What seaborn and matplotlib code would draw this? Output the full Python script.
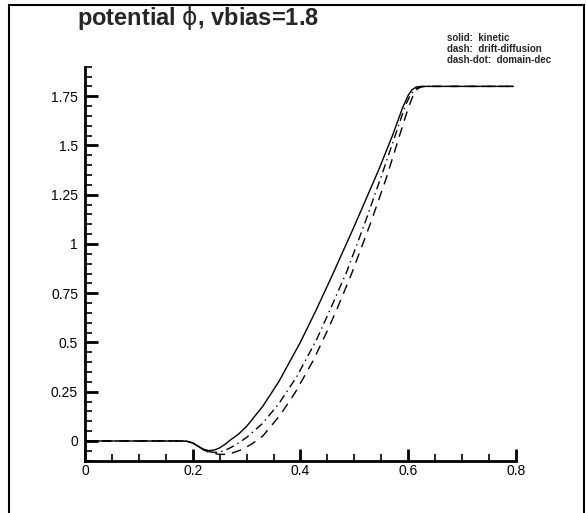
import numpy as np
import pandas as pd
import matplotlib
matplotlib.use("Agg")
import matplotlib.pyplot as plt
from matplotlib.patches import Rectangle
from matplotlib.ticker import MultipleLocator
import seaborn as sns

# kinetic (solid)
x_kin = [0.0, 0.1, 0.18, 0.19, 0.2, 0.21, 0.22, 0.23, 0.24, 0.25, 0.26, 0.27, 0.285, 0.30,
         0.33, 0.36, 0.40, 0.43, 0.46, 0.50, 0.545, 0.57, 0.59, 0.60, 0.607, 0.615, 0.625,
         0.70, 0.795]
y_kin = [0.0, 0.0, 0.0, -0.002, -0.01, -0.026, -0.042, -0.049, -0.046, -0.035, -0.017, 0.005,
         0.035, 0.074, 0.176, 0.302, 0.502, 0.670, 0.847, 1.091, 1.375, 1.545, 1.695, 1.755,
         1.783, 1.797, 1.80, 1.80, 1.80]

# drift-diffusion (dash)
x_dd = [0.0, 0.1, 0.18, 0.19, 0.2, 0.21, 0.22, 0.23, 0.24, 0.25, 0.26, 0.27, 0.29, 0.31,
        0.33, 0.362, 0.39, 0.424, 0.45, 0.467, 0.495, 0.53, 0.56, 0.585, 0.60, 0.61, 0.618,
        0.627, 0.64, 0.70, 0.795]
y_dd = [0.0, 0.0, 0.0, -0.002, -0.01, -0.027, -0.045, -0.057, -0.064, -0.068, -0.068, -0.064,
        -0.045, -0.015, 0.025, 0.13, 0.245, 0.41, 0.56, 0.665, 0.85, 1.105, 1.34, 1.56, 1.69,
        1.76, 1.79, 1.799, 1.80, 1.80, 1.80]

# domain-dec (dash-dot)
x_dom = [0.0, 0.1, 0.18, 0.19, 0.2, 0.21, 0.22, 0.23, 0.24, 0.25, 0.26, 0.28, 0.30, 0.33,
         0.36, 0.393, 0.43, 0.458, 0.486, 0.52, 0.554, 0.58, 0.595, 0.605, 0.615, 0.625, 0.635,
         0.70, 0.795]
y_dom = [0.0, 0.0, 0.0, -0.002, -0.01, -0.027, -0.044, -0.054, -0.058, -0.056, -0.048, -0.02,
         0.018, 0.09, 0.19, 0.326, 0.515, 0.685, 0.86, 1.11, 1.375, 1.585, 1.705, 1.762, 1.79,
         1.799, 1.80, 1.80, 1.80]

x_ticks = [0, 0.2, 0.4, 0.6, 0.8]
x_labels = ["0", "0.2", "0.4", "0.6", "0.8"]
y_ticks = [0, 0.25, 0.5, 0.75, 1, 1.25, 1.5, 1.75]
y_labels = ["0", "0.25", "0.5", "0.75", "1", "1.25", "1.5", "1.75"]

sns.set_style("ticks")
plt.rcParams['font.family'] = ['Liberation Sans', 'DejaVu Sans']

fig = plt.figure(figsize=(5.86, 5.13), dpi=100)
ax = fig.add_axes([0.145, 0.102, 0.7355, 0.768])

sns.lineplot(x=x_kin, y=y_kin, ax=ax, color='k', lw=1.0, linestyle='-')
sns.lineplot(x=x_dd, y=y_dd, ax=ax, color='k', lw=1.0, dashes=False,
             linestyle=(0, (7, 5)))
sns.lineplot(x=x_dom, y=y_dom, ax=ax, color='k', lw=1.0, dashes=False,
             linestyle=(0, (6, 3, 1, 3)))

ax.set_xlim(0, 0.8)
ax.set_ylim(-0.1, 1.9)
ax.set_xticks(x_ticks)
ax.set_xticklabels(x_labels)
ax.set_yticks(y_ticks)
ax.set_yticklabels(y_labels)
ax.xaxis.set_minor_locator(MultipleLocator(0.05))
ax.yaxis.set_minor_locator(MultipleLocator(0.05))
ax.tick_params(which='major', direction='in', length=9, width=2, labelsize=10, colors='k')
ax.tick_params(which='minor', direction='in', length=5, width=1.2, colors='k')
ax.tick_params(axis='x', which='major', pad=2.5)
ax.tick_params(axis='y', which='major', pad=5)
for s in ['top', 'right']:
    ax.spines[s].set_visible(False)
for s in ['left', 'bottom']:
    ax.spines[s].set_linewidth(2)
    ax.spines[s].set_color('k')
ax.set_xlabel('')
ax.set_ylabel('')

fig.text(77 / 586, 1 - 25 / 513, r"potential $\mathrm{\phi}$, vbias=1.8", fontsize=17,
         fontweight='bold', ha='left', va='baseline')
legend_lines = ["solid:  kinetic", "dash:  drift-diffusion", "dash-dot:  domain-dec"]
for i, t in enumerate(legend_lines):
    fig.text(447 / 586, 1 - (41 + 11 * i) / 513, t, fontsize=7, fontweight='bold',
             ha='left', va='baseline')

fig.patches.append(Rectangle((9 / 586, -0.05), 575 / 586, 1.05 - 5 / 513,
                             transform=fig.transFigure, fill=False, lw=1.5, ec='k'))

fig.savefig("out.png", dpi=100)
